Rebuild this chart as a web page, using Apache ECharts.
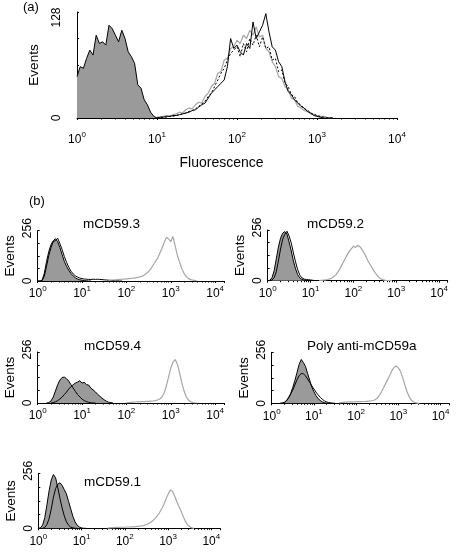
<!DOCTYPE html>
<html><head><meta charset="utf-8">
<script src="https://cdn.jsdelivr.net/npm/echarts@6/dist/echarts.min.js"></script>
<style>html,body{margin:0;padding:0;background:#fff}#c{width:456px;height:552px}</style>
</head><body><div id="c"></div>
<script>
const FONT = '"Liberation Sans", Arial, Helvetica, sans-serif';

// ---------- Panel (a): histograms, channel bins every 0.04 decade ----------
const aStep = 0.04;
const aIsoStart = 0.0;
const aIso = [50,62,60,72,82,76,100,90,92,88, 112,108,100,92,106,96,80,74,66,40, 36,22,16,7,2,0];
const aPosStart = 1.0;
const aBlack = [0,1,1,2,2,3,3,4,5,6, 7,9,10,13,16,18,24,30,34,38, 42,46,62,96,84,88,80,76,90,84, 116,96,104,112,126,104,86,82,68,62, 44,32,28,22,18,14,12,8,6,3, 2,1,0,0,0,0];
const aGray = [1,1,2,3,2,4,5,7,6,10, 12,11,16,19,18,26,30,38,42,54, 56,70,72,84,86,94,90,100,96,106, 100,110,98,100,84,80,68,62,50,48, 38,34,24,22,14,12,9,8,5,4, 3,2,2,1,0,0];
const aDash = [0,1,1,1,2,2,3,4,5,6, 8,9,11,14,17,20,26,30,38,46, 54,60,70,78,82,86,74,90,80,96, 88,100,86,98,84,86,70,72,56,58, 42,38,28,26,18,16,11,10,6,5, 3,2,1,0,0,0];

// ---------- Panels (b): bins every 0.05 decade ----------
const bStep = 0.05;
const panelTitles = ['mCD59.3', 'mCD59.2', 'mCD59.4', 'Poly anti-mCD59a', 'mCD59.1'];

// mCD59.3
const b1IsoStart = 0.0;
const b1Iso = [0,0,4,40,100,150,185,205,215,200,170,135,100,75,55,38,26,16,10,6,4,2,1,0,0];
const b1TestStart = 0.0;
const b1Test = [0,0,2,25,75,130,170,200,205,218,190,160,125,95,70,50,36,26,20,15,12,10,9,8,8,9,8,9,8,7,6,5,4,3,2,1,1,0,0];
const b1PosStart = 1.6;
const b1Pos = [2,4,5,6,7,8,9,10,11,12,13,14,16,18,21,24,30,38,48,62,80,98,115,140,165,195,222,215,200,226,178,130,95,62,38,22,12,7,4,2,0];

// mCD59.2
const b2IsoStart = 0.0;
const b2Iso = [0,2,15,50,110,170,215,240,248,235,195,150,100,60,30,14,6,3,1,0,0];
const b2TestStart = 0.0;
const b2Test = [0,0,3,15,45,100,160,210,235,250,225,190,140,95,55,28,14,8,6,5,4,2,1,0];
const b2PosStart = 1.2;
const b2Pos = [1,2,3,4,6,9,14,22,32,48,66,88,108,128,148,160,175,168,178,172,158,140,118,96,78,60,42,28,16,8,4,2,1,0,0];

// mCD59.4
const b3IsoStart = 0.2;
const b3Iso = [0,2,10,30,60,92,115,128,130,122,110,92,75,58,42,30,20,12,7,3,1,0,0];
const b3TestStart = 0.3;
const b3Test = [0,2,6,12,20,30,42,55,70,82,92,100,105,112,100,104,92,90,74,66,56,44,34,24,16,9,4,2,0];
const b3PosStart = 2.0;
const b3Pos = [1,2,3,4,5,6,6,7,7,8,8,9,10,12,15,20,30,50,85,130,175,205,218,195,150,100,60,30,14,6,2,0,0];

// Poly anti-mCD59a
const b4IsoStart = 0.2;
const b4Iso = [0,1,4,12,28,50,80,115,155,195,220,205,185,150,115,82,58,38,24,14,7,3,1,0,0];
const b4TestStart = 0.2;
const b4Test = [0,1,5,14,28,46,68,92,118,138,150,148,138,122,105,88,72,56,42,30,20,12,7,4,2,1,0];
const b4PosStart = 1.6;
const b4Pos = [2,4,5,6,6,7,7,7,8,8,8,9,9,10,11,12,14,18,26,40,58,78,100,120,142,165,180,188,178,160,130,95,62,36,18,8,3,1,0];

// mCD59.1
const b5IsoStart = 0.0;
const b5Iso = [0,2,15,50,110,175,225,250,235,190,140,95,58,30,14,5,2,0,0];
const b5TestStart = 0.1;
const b5Test = [0,4,18,45,90,145,185,205,212,200,180,160,125,90,55,30,14,6,2,0,0];
const b5PosStart = 1.6;
const b5Pos = [1,2,3,3,4,4,5,5,5,6,6,7,7,8,9,10,12,14,18,22,28,36,46,58,72,90,110,135,158,178,172,150,125,102,80,55,32,16,7,2,0];

// ---------- helpers ----------
function bins(start, step, vals) {
  return vals.map((v, i) => [Math.pow(10, +(start + i * step).toFixed(4)), v]);
}
function decadeLabel(v) {
  const e = Math.log10(v), r = Math.round(e);
  return Math.abs(e - r) < 1e-6 ? '10{s|' + r + '}' : '';
}

// layout (px)
const grids = [
  {left: 77, top: 12, width: 320, height: 106},
  {left: 37.7, top: 230.7, width: 186.3, height: 50.3},
  {left: 267.7, top: 230, width: 180, height: 50.7},
  {left: 37.7, top: 352, width: 186.3, height: 51},
  {left: 271.7, top: 352.3, width: 177.3, height: 51},
  {left: 38.3, top: 473.3, width: 181.7, height: 55}
];

const black = '#000';
const fillGray = '#9a9a9a';
const lineGray = '#a6a6a6';

const xAxes = grids.map((g, i) => ({
  type: 'log', logBase: 10, gridIndex: i,
  min: 1, max: i === 0 ? 10000 : 15849,
  axisLine: {show: true, lineStyle: {color: black, width: 1}},
  axisTick: {show: true, inside: false, length: 2, lineStyle: {color: black}},
  minorTick: {show: true, splitNumber: 9, length: 1.5, lineStyle: {color: black}},
  splitLine: {show: false}, minorSplitLine: {show: false},
  axisLabel: {
    formatter: decadeLabel, fontFamily: FONT, fontSize: 12, color: black,
    lineHeight: 18, margin: i === 0 ? 13 : 4, showMaxLabel: i === 0,
    rich: {s: {fontSize: 8, lineHeight: 10, verticalAlign: 'top', fontFamily: FONT, color: black}}
  },
  name: i === 0 ? 'Fluorescence' : '',
  nameLocation: 'middle', nameGap: 38,
  nameTextStyle: {fontFamily: FONT, fontSize: 14, color: black, padding: [0, 31, 0, 0]}
}));

const yAxes = grids.map((g, i) => {
  const mx = i === 0 ? 128 : 256;
  return {
    type: 'value', gridIndex: i, min: 0, max: mx, interval: mx / 4,
    axisLine: {show: true, lineStyle: {color: black, width: 1}},
    axisTick: {show: true, inside: true, length: 2, lineStyle: {color: black}},
    splitLine: {show: false},
    axisLabel: {
      formatter: v => v === mx ? (i === 0 ? '{m|' + v + '}' : '{n|' + v + '}') : (v === 0 ? '0' : ''),
      rotate: 90, fontFamily: FONT, fontSize: 12, color: black,
      margin: i === 0 ? 14 : 4,
      rich: {
        m: {fontFamily: FONT, fontSize: 12, color: black, padding: [0, 11, 0, 0]},
        n: {fontFamily: FONT, fontSize: 12, color: black, padding: [0, 0, 0, 5]}
      }
    },
    name: 'Events', nameLocation: 'middle', nameRotate: 90,
    nameGap: i === 0 ? 36 : 20,
    nameTextStyle: {fontFamily: FONT, fontSize: 13.5, color: black}
  };
});

function fill(idx, data) {
  return {type: 'line', xAxisIndex: idx, yAxisIndex: idx, data, symbol: 'none',
    lineStyle: {width: 0, color: fillGray}, areaStyle: {color: fillGray, opacity: 1}, silent: true, z: 2};
}
function line(idx, data, color, width, type) {
  return {type: 'line', xAxisIndex: idx, yAxisIndex: idx, data, symbol: 'none',
    lineStyle: {width, color, type: type || 'solid'}, silent: true, z: 3};
}

const series = [
  fill(0, bins(aIsoStart, aStep, aIso)),
  line(0, bins(aIsoStart, aStep, aIso), black, 1),
  line(0, bins(aPosStart, aStep, aGray), lineGray, 1.2),
  line(0, bins(aPosStart, aStep, aDash), black, 1, [2, 2]),
  line(0, bins(aPosStart, aStep, aBlack), black, 1)
];
const bSets = [
  [b1IsoStart, b1Iso, b1TestStart, b1Test, b1PosStart, b1Pos, false],
  [b2IsoStart, b2Iso, b2TestStart, b2Test, b2PosStart, b2Pos, false],
  [b3IsoStart, b3Iso, b3TestStart, b3Test, b3PosStart, b3Pos, true],
  [b4IsoStart, b4Iso, b4TestStart, b4Test, b4PosStart, b4Pos, false],
  [b5IsoStart, b5Iso, b5TestStart, b5Test, b5PosStart, b5Pos, true]
];
bSets.forEach((s, k) => {
  const idx = k + 1;
  const iso = bins(s[0], bStep, s[1]), test = bins(s[2], bStep, s[3]), pos = bins(s[4], bStep, s[5]);
  series.push(fill(idx, iso));
  if (s[6]) series.push(fill(idx, test));
  series.push(line(idx, iso, black, 1));
  series.push(line(idx, test, black, 1));
  series.push(line(idx, pos, lineGray, 1.2));
});

const titlePos = [[83, 217], [307, 217], [84, 339], [307, 339], [84, 475]];
const titles = [
  {text: '(a)', left: 23, top: 1, padding: 0, textStyle: {fontFamily: FONT, fontSize: 13, fontWeight: 'normal', color: black}},
  {text: '(b)', left: 29, top: 195, padding: 0, textStyle: {fontFamily: FONT, fontSize: 13, fontWeight: 'normal', color: black}}
].concat(panelTitles.map((t, k) => ({
  text: t, left: titlePos[k][0], top: titlePos[k][1], padding: 0,
  textStyle: {fontFamily: FONT, fontSize: 13.5, fontWeight: 'normal', color: black}
})));

const chart = echarts.init(document.getElementById('c'), null, {renderer: 'canvas'});
chart.setOption({
  animation: false,
  backgroundColor: '#fff',
  title: titles,
  grid: grids.map(g => Object.assign({containLabel: false}, g)),
  xAxis: xAxes,
  yAxis: yAxes,
  series
});
</script></body></html>
